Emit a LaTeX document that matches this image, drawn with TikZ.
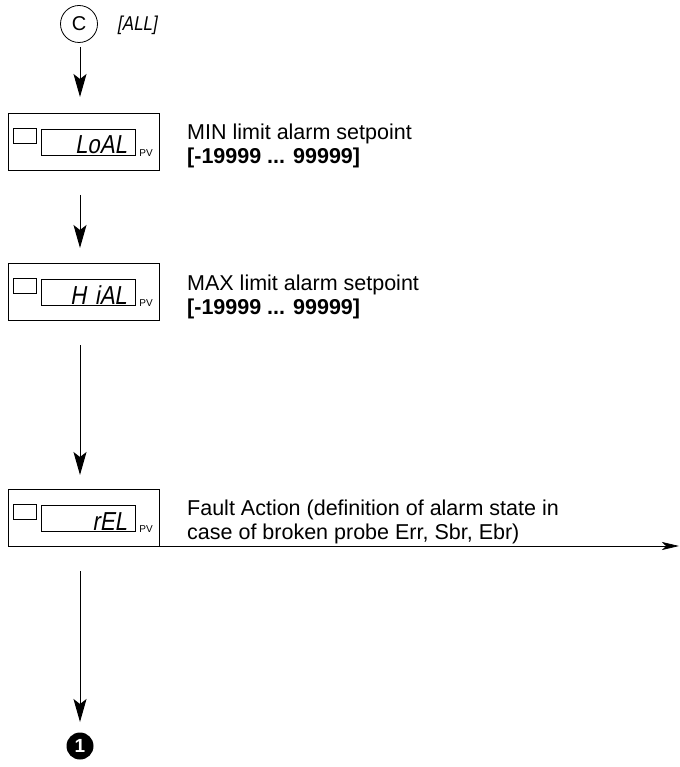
\documentclass[tikz,border=0pt]{standalone}
\usepackage{fontspec}
\setmainfont{Liberation Sans}
\newfontfamily\segfont[FakeStretch=0.85,FakeSlant=0.18]{Liberation Sans}
\usetikzlibrary{arrows.meta}
\begin{document}
\begin{tikzpicture}[x=1pt,y=-1pt,
  flow/.style={draw, line width=1pt, -{Stealth[length=23pt,width=13pt,inset=5pt]}},
  outerbox/.style={draw, line width=0.8pt, minimum width=151pt, minimum height=57pt, inner sep=0pt},
  ledbox/.style={draw, line width=0.6pt, minimum width=23pt, minimum height=15pt, inner sep=0pt},
  dispbox/.style={draw, line width=0.6pt, minimum width=94pt, minimum height=26pt, inner sep=0pt},
  segtext/.style={font=\segfont\fontsize{26}{26}\selectfont, anchor=base east, inner sep=0pt},
  pvtext/.style={font=\fontsize{10}{10}\selectfont, inner sep=0pt},
  desc/.style={font=\fontsize{21.5}{24}\selectfont, anchor=base west, inner sep=0pt}
]
\useasboundingbox (0,0) rectangle (679,767);

% Start connector
\node[draw, circle, line width=0.8pt, minimum size=37pt, inner sep=0pt, font=\fontsize{20}{20}\selectfont] (c) at (79,24) {C};
\node[font=\segfont\fontsize{20}{20}\selectfont, anchor=base west, inner sep=0pt] (all) at (117,31) {[ALL]};
\coordinate (a1s) at (80,47);

% Box 1
\node[outerbox] (b1) at (83.5,142) {};
\node[ledbox] (l1) at (24.5,135.5) {};
\node[dispbox] (d1) at (88,142) {};
\node[segtext] (t1) at (127,154) {LoAL};
\node[pvtext] (p1) at (146,153) {PV};
\node[desc] (x1a) at (187,140) {MIN limit alarm setpoint};
\node[desc, font=\bfseries\fontsize{21.5}{24}\selectfont] (x1b) at (187,164) {[-19999 ... 99999]};

% Box 2
\node[outerbox] (b2) at (83.5,292) {};
\node[ledbox] (l2) at (24.5,285.5) {};
\node[dispbox] (d2) at (88,292) {};
\node[segtext] (t2) at (127,304) {H\,\,iAL};
\node[pvtext] (p2) at (146,303) {PV};
\node[desc] (x2a) at (187,290) {MAX limit alarm setpoint};
\node[desc, font=\bfseries\fontsize{21.5}{24}\selectfont] (x2b) at (187,314) {[-19999 ... 99999]};

% Box 3
\node[outerbox] (b3) at (83.5,517.5) {};
\node[ledbox] (l3) at (24.5,511.5) {};
\node[dispbox] (d3) at (88,518) {};
\node[segtext] (t3) at (127,530) {rEL};
\node[pvtext] (p3) at (146,529) {PV};
\node[desc] (x3a) at (187,515) {Fault Action (definition of alarm state in};
\node[desc] (x3b) at (187,539) {case of broken probe Err, Sbr, Ebr)};

% End marker
\node[circle, fill=black, minimum size=27pt, inner sep=0pt, text=white, font=\bfseries\fontsize{19}{19}\selectfont] (e) at (80,746) {1};

% Connectors
\coordinate (a1e) at (80,97);
\coordinate (a2s) at (80,195);
\coordinate (a2e) at (80,248);
\coordinate (a3s) at (80,345);
\coordinate (a3e) at (80,475);
\coordinate (a4s) at (80,571);
\coordinate (a4e) at (80,722);
\coordinate (hs) at (155,546);
\coordinate (he) at (679,546);
\draw[flow] (a1s) -- (a1e);
\draw[flow] (a2s) -- (a2e);
\draw[flow] (a3s) -- (a3e);
\draw[flow] (a4s) -- (a4e);
\draw[line width=0.7pt, -{Stealth[length=17pt,width=8pt,inset=4pt]}] (hs) -- (he);
\end{tikzpicture}
\end{document}
